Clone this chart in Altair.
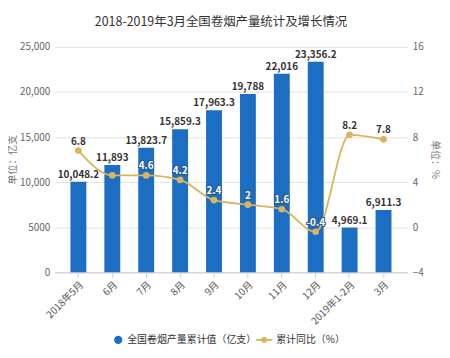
import altair as alt
import pandas as pd

months = ["2018年5月", "6月", "7月", "8月", "9月", "10月", "11月", "12月", "2019年1-2月", "3月"]
output = [10048.2, 11893, 13823.7, 15859.3, 17963.3, 19788, 22016, 23356.2, 4969.1, 6911.3]
growth = [6.8, 4.6, 4.6, 4.2, 2.4, 2.0, 1.6, -0.4, 8.2, 7.8]
growth_labels = ["6.8", "", "4.6", "4.2", "2.4", "2", "1.6", "-0.4", "8.2", "7.8"]

left_ticks = [0, 5000, 10000, 15000, 20000, 25000]
right_ticks = [-4, 0, 4, 8, 12, 16]

bar_name = "全国卷烟产量累计值（亿支）"
line_name = "累计同比（%）"

FONT = "Noto Sans CJK SC"
BLUE = "#1b6ec2"
GOLD = "#d9b45c"

df = pd.DataFrame({"month": months, "output": output, "growth": growth, "glabel": growth_labels})

x = alt.X("month:N", sort=months,
          scale=alt.Scale(paddingInner=0, paddingOuter=0.2),
          axis=alt.Axis(title=None, labelAngle=-45, labelAlign="right", labelBaseline="top",
                        labelFontSize=10, labelColor="#555", labelPadding=2,
                        domainColor="#cccccc", tickColor="#cccccc", tickSize=5, grid=False))

yl = alt.Y("output:Q",
           scale=alt.Scale(domain=[0, 25000], nice=False),
           axis=alt.Axis(title="单位：亿支", values=left_ticks,
                         labelExpr="datum.value >= 10000 ? format(datum.value, ',') : datum.value",
                         labelFontSize=10, labelColor="#666", titleFontSize=10,
                         titleColor="#777", titleFontWeight="normal",
                         titleX=-42, titleY=113, titleAngle=270, titleBaseline="middle", titleAlign="center",
                         domain=False, ticks=False, gridColor="#e3e3e3", labelPadding=5))

bars = alt.Chart(df).mark_bar(size=16, color=BLUE).encode(x=x, y=yl)
bar_text = alt.Chart(df).mark_text(dy=-7, fontSize=10, fontWeight="bold", color="#333", font=FONT).encode(
    x=x, y=alt.Y("output:Q"), text=alt.Text("output:Q", format=",.1~f"))
left = alt.layer(bars, bar_text)

yr = alt.Y("growth:Q",
           scale=alt.Scale(domain=[-4, 16], nice=False),
           axis=alt.Axis(title="单位：%", orient="right", values=right_ticks, grid=False,
                         domain=False, ticks=False, labelFontSize=10, labelColor="#666",
                         titleFontSize=10, titleColor="#777", titleFontWeight="normal",
                         titleX=27, titleY=113, titleAngle=90, titleBaseline="middle", titleAlign="center",
                         labelPadding=5))

line = alt.Chart(df).mark_line(color=GOLD, strokeWidth=1.8, interpolate="monotone").encode(x=x, y=yr)
pts = alt.Chart(df).mark_point(filled=True, size=45, color=GOLD, opacity=1).encode(x=x, y=yr)
lab = alt.Chart(df).transform_calculate(
    inside="(datum.growth + 4) * 1250 + 1000 < datum.output"
)
halo = lab.transform_filter("datum.inside").mark_text(
    dy=-9, fontSize=10, fontWeight="bold", font=FONT, stroke="#2a5a8a", strokeWidth=2, color="#2a5a8a"
).encode(x=x, y=yr, text="glabel:N")
ltext = lab.mark_text(dy=-9, fontSize=10, fontWeight="bold", font=FONT).encode(
    x=x, y=yr, text="glabel:N",
    color=alt.condition("datum.inside", alt.value("white"), alt.value("#333")))
right = alt.layer(line, pts, halo, ltext)

one = pd.DataFrame({"a": [0]})
leg_y = 295
leg1 = alt.Chart(one).mark_point(filled=True, size=70, color=BLUE, opacity=1).encode(
    x=alt.value(64), y=alt.value(leg_y))
leg1t = alt.Chart(one).mark_text(align="left", baseline="middle", fontSize=10, color="#333", font=FONT).encode(
    x=alt.value(73), y=alt.value(leg_y), text=alt.value(bar_name))
leg2l = alt.Chart(one).mark_rule(color=GOLD, strokeWidth=2).encode(
    x=alt.value(203), x2=alt.value(219), y=alt.value(leg_y))
leg2p = alt.Chart(one).mark_point(filled=True, size=35, color=GOLD, opacity=1).encode(
    x=alt.value(211), y=alt.value(leg_y))
leg2t = alt.Chart(one).mark_text(align="left", baseline="middle", fontSize=10, color="#333", font=FONT).encode(
    x=alt.value(223), y=alt.value(leg_y), text=alt.value(line_name))
legend = alt.layer(leg1, leg1t, leg2l, leg2p, leg2t)

chart = alt.layer(left, right, legend).resolve_scale(y="independent").properties(
    width=355, height=227,
    autosize=alt.AutoSizeParams(type="none"),
    padding={"left": 47, "top": 38, "right": 35, "bottom": 72},
    title=alt.TitleParams("2018-2019年3月全国卷烟产量统计及增长情况", fontSize=12.5, color="#333",
                          fontWeight="normal", anchor="middle", offset=14, dx=-10, font=FONT),
).configure(font=FONT).configure_view(stroke=None).configure_axis(labelFont=FONT, titleFont=FONT)

chart.save("out.html", embed_options={"renderer": "svg", "actions": False})
